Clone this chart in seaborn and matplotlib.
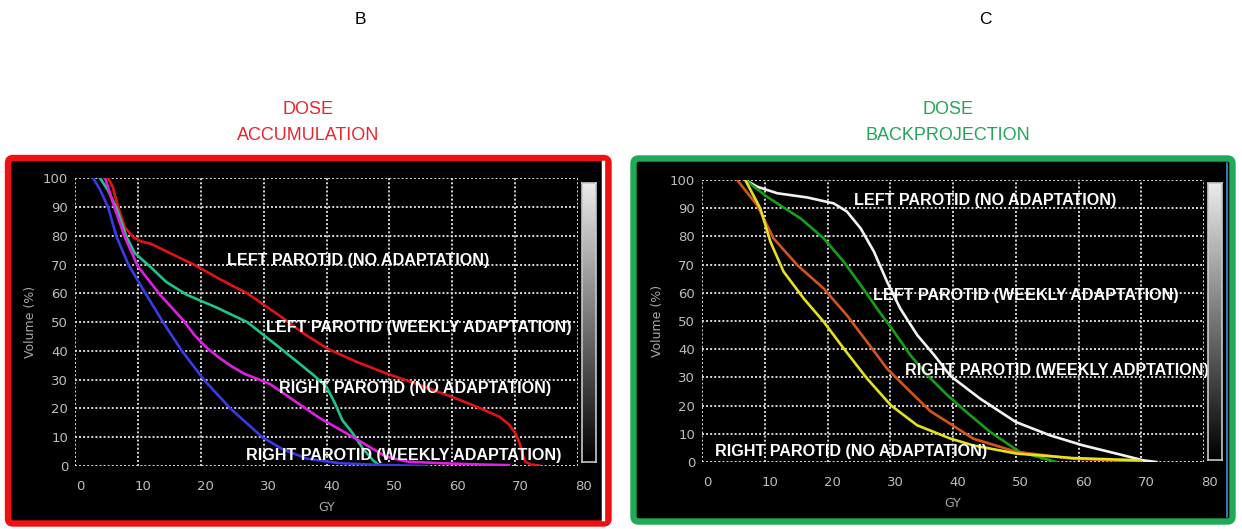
import matplotlib
matplotlib.use("Agg")
import matplotlib.pyplot as plt
import numpy as np
import pandas as pd
import seaborn as sns
from matplotlib.patches import FancyBboxPatch
from matplotlib.transforms import ScaledTranslation

# ---------------- data: cumulative DVH curves (dose in Gy, volume in %) ----------------
# Dose accumulation
acc_lp_noad_dose = [5.3, 6.0, 6.9, 7.9, 9.3, 10.6, 12.0, 15.2, 18.9, 23.0, 27.4, 32.7, 36.4,
                    40.4, 45.0, 49.5, 55.0, 60.0, 64.0, 67.5, 69.0, 70.0, 70.7, 71.2, 71.6,
                    72.5, 73.8]
acc_lp_noad_vol = [100, 97, 89.7, 83, 79.5, 78, 77.3, 73.9, 70, 65, 60, 52, 46,
                   40.5, 36, 32.2, 28, 24, 20.5, 17.1, 14.5, 11.5, 8, 4, 1.5,
                   0.5, 0.2]

acc_lp_week_dose = [4.0, 5.2, 6.6, 8.2, 9.5, 11.9, 14.5, 17.7, 22.6, 27.4, 33.2, 38.0,
                    40.0, 41.3, 42.5, 44.2, 45.8, 47.4, 48.5]
acc_lp_week_vol = [100, 96, 89.7, 79.6, 74, 69.4, 64, 59.6, 55, 50, 40, 31.5,
                   27.5, 22, 16, 11.3, 6, 2, 0]

acc_rp_noad_dose = [4.8, 6.3, 7.9, 10.0, 13.5, 17.2, 19.0, 21.0, 23.0, 25.0, 27.0, 29.0,
                    31.0, 33.0, 35.0, 38.9, 44.1, 49.5, 53.0, 58.0, 63.0, 69.0]
acc_rp_noad_vol = [100, 89.7, 79.7, 69.4, 59.6, 50.7, 45.5, 41, 37.5, 34.5, 32, 30.3,
                   28.5, 25.5, 22.5, 16.7, 10.2, 3.2, 1.5, 1.0, 0.6, 0.3]

acc_rp_week_dose = [2.9, 4.0, 5.3, 6.6, 8.5, 11.2, 14.0, 17.0, 20.5, 24.7, 29.8, 33.2,
                    37.0, 42.0, 48.0, 56.0]
acc_rp_week_vol = [100, 96, 89.7, 79.7, 70, 60, 50, 40, 30, 20, 10, 5.6,
                   2.5, 1.0, 0.4, 0]

# Dose backprojection
bp_lp_noad_dose = [6.9, 8.8, 12.0, 16.8, 21.0, 23.1, 25.3, 27.4, 29.5, 31.6, 34.3, 37.0,
                   39.6, 44.3, 50.0, 55.4, 60.7, 66.0, 70.3, 72.4]
bp_lp_noad_vol = [100, 97.6, 95.3, 93.8, 91.7, 88.8, 82.8, 74.6, 63.9, 54.4, 45, 37.9,
                  30.5, 22.5, 14.2, 9.5, 5.9, 3, 0.6, 0]

bp_lp_week_dose = [6.9, 10.4, 15.7, 19.4, 22.6, 25.3, 27.9, 30.6, 33.2, 35.9, 39.1, 42.1,
                   45.9, 50.6, 56.5]
bp_lp_week_vol = [100, 94, 86.4, 79.3, 71, 62.7, 54.4, 46.2, 37.9, 30.8, 23.7, 17.8,
                  10.7, 3.6, 0]

bp_rp_week_dose = [5.6, 8.8, 11.4, 15.2, 19.4, 23.1, 26.3, 29.5, 32.7, 36.4, 39.6, 43.2,
                   50.1, 59.1, 69.8]
bp_rp_week_vol = [100, 91, 79.3, 69.8, 61.5, 52, 42.6, 33.1, 26, 18, 13.5, 8.3,
                  3.6, 1.2, 0.2]

bp_rp_noad_dose = [6.9, 9.3, 10.9, 13.0, 16.2, 19.4, 22.6, 26.3, 30.1, 34.3, 39.6, 43.2,
                   50.1, 59.1, 69.8]
bp_rp_noad_vol = [100, 89.9, 78.1, 67.5, 58, 49.7, 40.2, 29.6, 20.1, 13, 8.3, 5.9,
                  3, 1.4, 0.6]

x_ticks = [0, 10, 20, 30, 40, 50, 60, 70, 80]
y_ticks = [0, 10, 20, 30, 40, 50, 60, 70, 80, 90, 100]

W, H = 1242, 529
fig = plt.figure(figsize=(W / 100, H / 100), dpi=100)
fig.patch.set_facecolor("white")

# pixel-space layer for the frames and headings
bg = fig.add_axes([0, 0, 1, 1])
bg.set_xlim(0, W)
bg.set_ylim(H, 0)
bg.axis("off")
bg.set_zorder(0)

SANS = ["Liberation Sans", "DejaVu Sans"]


def frame(x0, y0, x1, y1, color):
    p = FancyBboxPatch((x0, y0), x1 - x0, y1 - y0,
                       boxstyle="round,pad=0,rounding_size=5",
                       facecolor="black", edgecolor=color, lw=4.6)
    bg.add_patch(p)


frame(8, 158, 608.5, 523.5, "#ee1111")
bg.plot([602.5, 602.5], [162, 519], color="white", lw=2.5)
frame(633.5, 158.5, 1232.5, 521.5, "#1faa55")
bg.plot([1227, 1227], [163, 517], color="#3a8fd8", lw=1.2)

bg.text(360, 19, "B", ha="center", va="center", fontsize=12.5, family=SANS, color="black")
bg.text(985, 19, "C", ha="center", va="center", fontsize=12.5, family=SANS, color="black")
bg.text(308, 110, "DOSE", ha="center", va="center", fontsize=13, family=SANS, color="#e8262f")
bg.text(308, 136, "ACCUMULATION", ha="center", va="center", fontsize=13, family=SANS, color="#e8262f")
bg.text(948, 110, "DOSE", ha="center", va="center", fontsize=13, family=SANS, color="#22a55a")
bg.text(948, 136, "BACKPROJECTION", ha="center", va="center", fontsize=13, family=SANS, color="#22a55a")


def px_axes(x0, y_top, x1, y_bot):
    return fig.add_axes([x0 / W, 1 - y_bot / H, (x1 - x0) / W, (y_bot - y_top) / H])


def dvh_panel(ax, curves, palette, labels):
    frames = []
    for name, d, v in curves:
        frames.append(pd.DataFrame({"dose": d, "volume": v, "structure": name}))
    df = pd.concat(frames, ignore_index=True)
    ax.set_zorder(2)
    ax.patch.set_alpha(0)
    sns.lineplot(data=df, x="dose", y="volume", hue="structure", palette=palette,
                 estimator=None, sort=False, legend=False, lw=1.9, ax=ax, zorder=3)
    ax.set_xlim(0, 80)
    ax.set_ylim(0, 100)
    ax.set_xticks(x_ticks)
    ax.set_yticks(y_ticks)
    ax.grid(True, color="#d8d8d8", lw=1.4, ls=(0, (1, 1.1)))
    ax.set_axisbelow(True)
    for s in ax.spines.values():
        s.set_visible(False)
    ax.tick_params(axis="both", length=0, colors="#bdbdbd", labelsize=9.5)
    ax.tick_params(axis="x", pad=10)
    ax.tick_params(axis="y", pad=5)
    shift = ScaledTranslation(5 / 100, 0, fig.dpi_scale_trans)
    for t in ax.xaxis.get_major_ticks():
        t.label1.set_transform(t.label1.get_transform() + shift)
    ax.set_xlabel("GY", color="#a8a8a8", fontsize=9, labelpad=6)
    ax.set_ylabel("Volume (%)", color="#a8a8a8", fontsize=9, labelpad=4)
    for text, x, y in labels:
        ax.text(x, y, text, ha="center", va="center", color="white", fontsize=11.6,
                family=SANS, fontweight="bold", zorder=5)


def gradient_bar(x0, y_top, x1, y_bot):
    cax = px_axes(x0, y_top, x1, y_bot)
    cax.set_zorder(2)
    grad = np.linspace(0.92, 0.0, 256).reshape(-1, 1)
    cax.imshow(grad, aspect="auto", cmap="gray", vmin=0, vmax=1)
    cax.set_xticks([])
    cax.set_yticks([])
    for s in cax.spines.values():
        s.set_color("#c8c8c8")
        s.set_linewidth(1.2)


# Dose accumulation panel
ax_b = px_axes(75, 178.3, 578, 466)
dvh_panel(
    ax_b,
    [("lp_noad", acc_lp_noad_dose, acc_lp_noad_vol),
     ("lp_week", acc_lp_week_dose, acc_lp_week_vol),
     ("rp_noad", acc_rp_noad_dose, acc_rp_noad_vol),
     ("rp_week", acc_rp_week_dose, acc_rp_week_vol)],
    {"lp_noad": "#e01414", "lp_week": "#1fc38f", "rp_noad": "#e020e0", "rp_week": "#3a3ae6"},
    [("LEFT PAROTID (NO ADAPTATION)", 45.0, 71.6),
     ("LEFT PAROTID (WEEKLY ADAPTATION)", 54.6, 48.3),
     ("RIGHT PAROTID (NO ADAPTATION)", 54.1, 27.1),
     ("RIGHT PAROTID (WEEKLY ADAPTATION)", 52.3, 3.5)],
)
gradient_bar(582, 183, 596, 462)

# Dose backprojection panel
ax_c = px_axes(702, 180, 1204, 462)
dvh_panel(
    ax_c,
    [("lp_noad", bp_lp_noad_dose, bp_lp_noad_vol),
     ("lp_week", bp_lp_week_dose, bp_lp_week_vol),
     ("rp_week", bp_rp_week_dose, bp_rp_week_vol),
     ("rp_noad", bp_rp_noad_dose, bp_rp_noad_vol)],
    {"lp_noad": "#f2f2f2", "lp_week": "#14a014", "rp_week": "#d2561a", "rp_noad": "#e6e020"},
    [("LEFT PAROTID (NO ADAPTATION)", 45.1, 92.6),
     ("LEFT PAROTID (WEEKLY ADAPTATION)", 51.6, 58.9),
     ("RIGHT PAROTID (WEEKLY ADPTATION)", 56.5, 32.6),
     ("RIGHT PAROTID (NO ADAPTATION)", 23.8, 3.9)],
)
gradient_bar(1208, 183, 1222, 460)

fig.savefig("out.png", dpi=100, facecolor="white")
